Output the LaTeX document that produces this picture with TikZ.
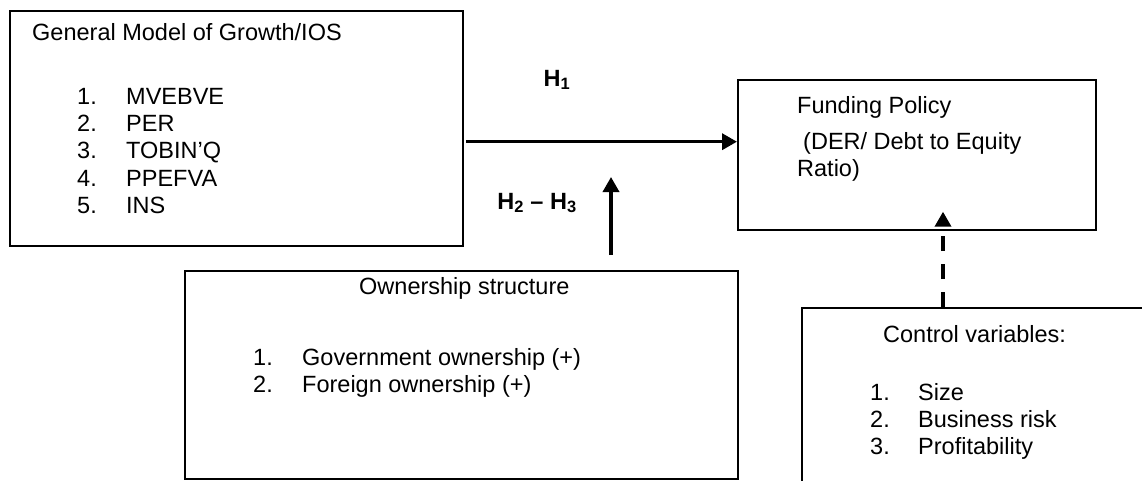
\documentclass[tikz,border=0pt]{standalone}
\usepackage{fontspec}
\setmainfont{Liberation Sans}
\usetikzlibrary{arrows.meta}
\begin{document}
\begin{tikzpicture}[x=1pt,y=-1pt,
  box/.style={draw, line width=2pt, inner sep=0pt, anchor=north west},
  txt/.style={anchor=base west, inner sep=0pt, font=\fontsize{23.5}{27}\selectfont},
  lbl/.style={anchor=center, inner sep=0pt, font=\fontsize{23.5}{27}\selectfont\bfseries},
  conn/.style={line width=3.5pt, -{Triangle[length=15pt,width=16pt]}},
]
\useasboundingbox (0,0) rectangle (1142,481);
\clip (0,0) rectangle (1142,481);

% boxes
\node[box, minimum width=453pt, minimum height=235pt] (lbox) at (9,10) {};
\node[box, minimum width=358pt, minimum height=150pt] (fbox) at (737,79) {};
\node[box, minimum width=553pt, minimum height=208pt] (obox) at (184,270) {};
\node[box, minimum width=400pt, minimum height=220pt] (cbox) at (801,307) {};

% left box text
\node[txt] (lt) at (32,41) {General Model of Growth/IOS};
\node[txt] (ln1) at (77,105) {1.};  \node[txt] (li1) at (126,105) {MVEBVE};
\node[txt] (ln2) at (77,132) {2.};  \node[txt] (li2) at (126,132) {PER};
\node[txt] (ln3) at (77,159) {3.};  \node[txt] (li3) at (126,159) {TOBIN’Q};
\node[txt] (ln4) at (77,186) {4.};  \node[txt] (li4) at (126,186) {PPEFVA};
\node[txt] (ln5) at (77,213) {5.};  \node[txt] (li5) at (126,213) {INS};

% funding box text
\node[txt] (ft1) at (797,114) {Funding Policy};
\node[txt] (ft2) at (803,150) {(DER/ Debt to Equity};
\node[txt] (ft3) at (797,176) {Ratio)};

% ownership text
\node[txt] (ot) at (359,294) {Ownership structure};
\node[txt] (on1) at (253,365) {1.}; \node[txt] (oi1) at (302,365) {Government ownership (+)};
\node[txt] (on2) at (253,392) {2.}; \node[txt] (oi2) at (302,392) {Foreign ownership (+)};

% control text
\node[txt] (ct) at (883,342) {Control variables:};
\node[txt] (cn1) at (870,400) {1.}; \node[txt] (ci1) at (918,400) {Size};
\node[txt] (cn2) at (870,427) {2.}; \node[txt] (ci2) at (918,427) {Business risk};
\node[txt] (cn3) at (870,454) {3.}; \node[txt] (ci3) at (918,454) {Profitability};

% labels
\node[lbl] (h1) at (557,80) {H\textsubscript{1}};
\node[lbl] (h23) at (537,203) {H\textsubscript{2} – H\textsubscript{3}};

% connectors
\coordinate (h1s) at (466,141.7);
\draw[conn] (h1s) -- (h1s -| fbox.west);
\coordinate (h2s) at (611,255);
\coordinate (h2e) at (611,177);
\draw[conn] (h2s) -- (h2e);
\coordinate (dtip) at (943,211.7);
\draw[conn, dash pattern=on 15pt off 13pt] (dtip |- cbox.north) -- (dtip);
\end{tikzpicture}
\end{document}
